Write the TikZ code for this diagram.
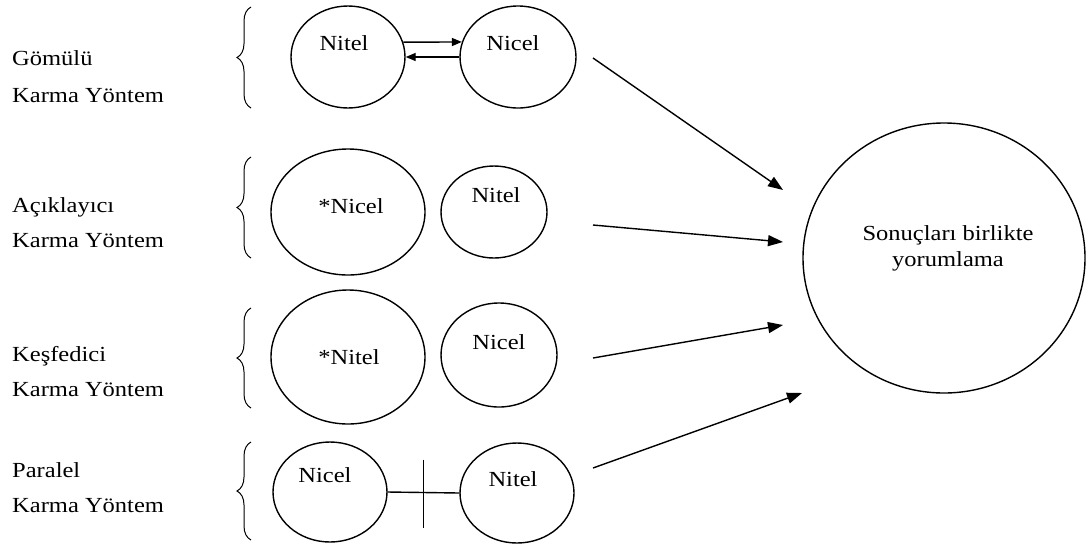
\documentclass[tikz,border=0pt]{standalone}
\usepackage{fontspec}
\setmainfont{Liberation Serif}[FakeStretch=1.14]
\usetikzlibrary{arrows.meta,shapes.geometric,decorations.pathreplacing,calc}

\begin{document}
\begin{tikzpicture}[x=1pt,y=-1pt,
  txt/.style={font=\fontsize{21.5}{26}\selectfont, inner sep=0pt},
  method/.style={txt, anchor=west},
  bubble/.style 2 args={ellipse, draw, line width=1.4pt, inner sep=0pt,
    minimum width=#1, minimum height=#2},
  inner/.style={txt, anchor=center},
  curly/.style={decorate, decoration={brace, amplitude=14pt}, line width=1pt},
  flow/.style={line width=1.4pt, -{Triangle[length=15pt, width=11pt]}},
  swap/.style={line width=1.4pt, -{Triangle[length=10pt, width=8pt]}},
  link/.style={line width=1.4pt}
]
\useasboundingbox (0,0) rectangle (1091,547);

% method names
\node[method] (m1a) at (12,58)  {Gömülü};
\node[method] (m1b) at (12,96)  {Karma Yöntem};
\node[method] (m2a) at (12,207) {Açıklayıcı};
\node[method] (m2b) at (12,241) {Karma Yöntem};
\node[method] (m3a) at (12,356) {Keşfedici};
\node[method] (m3b) at (12,390) {Karma Yöntem};
\node[method] (m4a) at (12,470) {Paralel};
\node[method] (m4b) at (12,506) {Karma Yöntem};

% braces
\draw[curly] (251,108) -- (251,7);
\draw[curly] (251,258) -- (251,157);
\draw[curly] (251,408) -- (251,308);
\draw[curly] (251,540) -- (251,442);

% embedded design
\node[bubble={114pt}{102pt}, label={[inner, xshift=-4pt, yshift=14pt]center:Nitel}] (ql1) at (348,57) {};
\node[bubble={116pt}{102pt}, label={[inner, xshift=-5pt, yshift=14pt]center:Nicel}] (qn1) at (518,57) {};
\draw[swap] (ql1.15) -- (qn1.165);
\draw[swap] (qn1.west) -- (ql1.east);

% explanatory design
\node[bubble={154pt}{126pt}, label={[inner, xshift=3pt, yshift=6pt]center:*Nicel}] (qn2) at (348,212) {};
\node[bubble={106pt}{92pt}, label={[inner, xshift=2pt, yshift=17pt]center:Nitel}] (ql2) at (494,212) {};

% exploratory design
\node[bubble={154pt}{134pt}, label={[inner, xshift=1pt, yshift=0pt]center:*Nitel}] (ql3) at (348,357) {};
\node[bubble={116pt}{104pt}, label={[inner, xshift=0pt, yshift=13pt]center:Nicel}] (qn3) at (499,355) {};

% convergent parallel design
\node[bubble={114pt}{100pt}, label={[inner, xshift=-5pt, yshift=17pt]center:Nicel}] (qn4) at (330,492) {};
\node[bubble={114pt}{100pt}, label={[inner, xshift=-4pt, yshift=14pt]center:Nitel}] (ql4) at (517,493) {};
\draw[link] (qn4.east) -- (ql4.west);
\coordinate (bar) at ($(qn4.east)!0.5!(ql4.west)$);
\draw[link] ([yshift=33pt]bar) -- ([yshift=-35pt]bar);

% joint interpretation
\node[bubble={282pt}{270pt}, label={[inner, align=center, xshift=4pt, yshift=10pt]center:Sonuçları birlikte\\yorumlama}] (joint) at (944,258) {};

\coordinate (s1) at (593,58);  \coordinate (e1) at (783,190);
\coordinate (s2) at (593,225); \coordinate (e2) at (783,242);
\coordinate (s3) at (593,358); \coordinate (e3) at (783,325);
\coordinate (s4) at (593,468); \coordinate (e4) at (802,393);
\draw[flow] (s1) -- (e1);
\draw[flow] (s2) -- (e2);
\draw[flow] (s3) -- (e3);
\draw[flow] (s4) -- (e4);
\end{tikzpicture}
\end{document}
